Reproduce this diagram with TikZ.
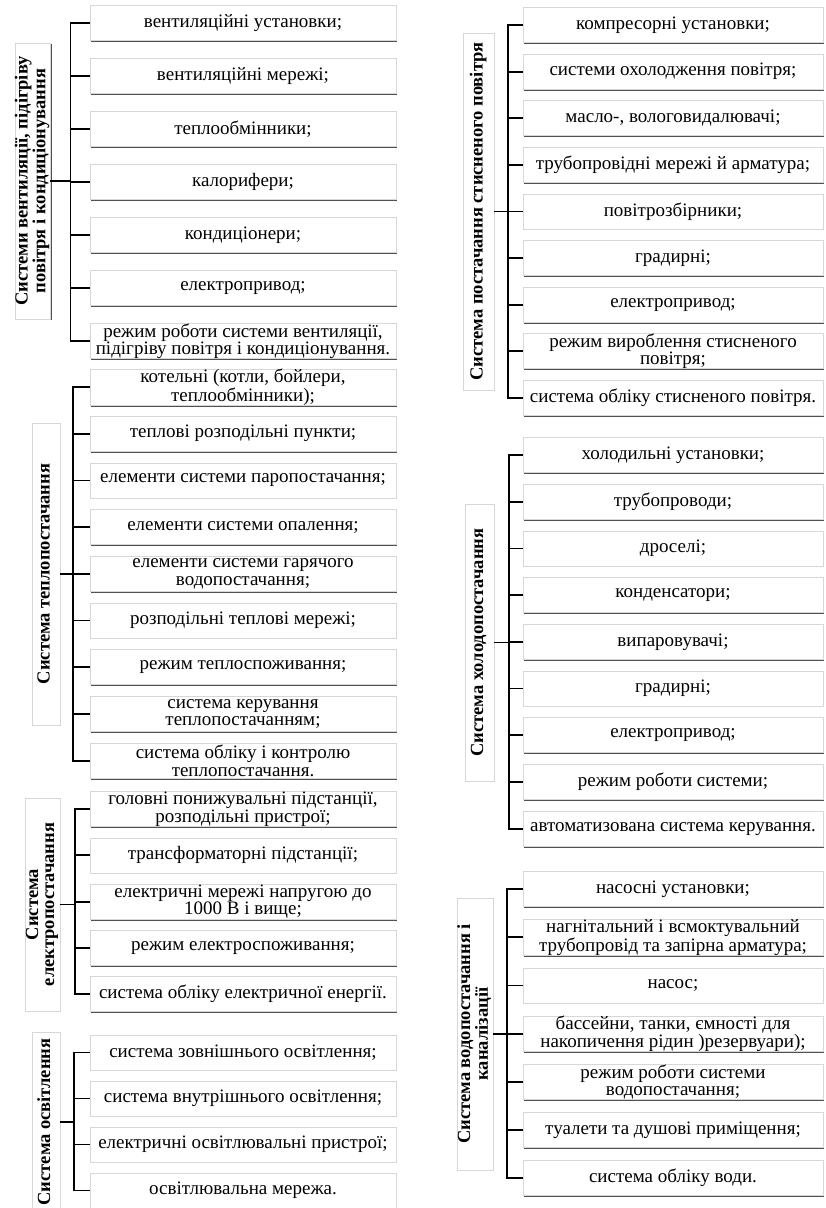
\documentclass[tikz,border=0pt]{standalone}
\usepackage{fontspec}
\setmainfont{Liberation Serif}
\usepackage{graphicx}
\usetikzlibrary{shadows}
\definecolor{EdgeGray}{RGB}{215,215,215}
\definecolor{ShadeGray}{RGB}{80,80,80}
\newcommand{\vtext}[1]{\rotatebox{90}{\begin{tabular}{@{}c@{}}#1\end{tabular}}}
\tikzset{
  item/.style={draw=EdgeGray,fill=white,line width=.6pt,
    minimum width=306pt,minimum height=35pt,inner xsep=2pt,inner ysep=0pt,
    align=center,font=\fontsize{19}{17.5}\selectfont,
    drop shadow={shadow xshift=1.4pt,shadow yshift=-1.4pt,fill=ShadeGray,opacity=1}},
  ritem/.style={item,minimum width=300pt},
  head/.style={draw=EdgeGray,fill=white,line width=.6pt,inner sep=0pt,
    font=\bfseries\fontsize{18.5}{16}\selectfont,
    drop shadow={shadow xshift=1.4pt,shadow yshift=-1.4pt,fill=ShadeGray,opacity=1}},
  link/.style={line width=1.8pt}
}
\begin{document}
\begin{tikzpicture}[x=1pt,y=-1pt]
  \useasboundingbox[fill=white] (0,0) rectangle (825,1208);

  % вентиляція
  \node[head,minimum width=35pt,minimum height=276pt] (h1) at (32.5,181)
    {\vtext{Системи вентиляції, підігріву\\повітря  і кондиціонування}};
  \coordinate (j1) at ([xshift=20pt]h1.east);
  \draw[link] (h1.east) -- (j1);
  \foreach \txt [count=\i] in {вентиляційні установки;,вентиляційні мережі;,
      теплообмінники;,калорифери;,кондиціонери;,електропривод;,
      {режим роботи системи вентиляції,\\підігріву повітря і кондиціонування.}}{
    \node[item] (a\i) at (243,{23+53*(\i-1)}) {\txt};
    \draw[link] (a\i.west) -| (j1);
  }

  % теплопостачання
  \node[head,minimum width=28pt,minimum height=302pt] (h2) at (46,574)
    {\vtext{Система теплопостачання}};
  \coordinate (j2) at ([xshift=13pt]h2.east);
  \draw[link] (h2.east) -- (j2);
  \foreach \txt [count=\i] in {{котельні (котли, бойлери,\\теплообмінники);},
      теплові розподільні пункти;,елементи системи паропостачання;,
      елементи системи опалення;,елементи системи гарячого\\водопостачання;,
      розподільні теплові мережі;,режим теплоспоживання;,
      система керування\\теплопостачанням;,
      система обліку і контролю\\теплопостачання.}{
    \node[item] (b\i) at (243,{387+46.7*(\i-1)}) {\txt};
    \draw[link] (b\i.west) -| (j2);
  }

  % електропостачання
  \node[head,minimum width=35pt,minimum height=213pt] (h3) at (42.5,904.5)
    {\vtext{Система\\електропостачання}};
  \coordinate (j3) at ([xshift=15pt]h3.east);
  \draw[link] (h3.east) -- (j3);
  \foreach \txt [count=\i] in {{головні понижувальні підстанції,\\розподільні пристрої;},
      трансформаторні  підстанції;,електричні мережі напругою до\\1000 В і вище;,
      режим електроспоживання;,система обліку електричної енергії.}{
    \node[item] (c\i) at (243,{809+46.3*(\i-1)}) {\txt};
    \draw[link] (c\i.west) -| (j3);
  }

  % освітлення
  \node[head,minimum width=28pt,minimum height=180pt] (h4) at (46,1122)
    {\vtext{Система освітлення}};
  \coordinate (j4) at ([xshift=14pt]h4.east);
  \draw[link] (h4.east) -- (j4);
  \foreach \txt [count=\i] in {система зовнішнього освітлення;,
      система внутрішнього освітлення;,електричні освітлювальні пристрої;,
      освітлювальна мережа.}{
    \node[item] (d\i) at (243,{1052.5+46*(\i-1)}) {\txt};
    \draw[link] (d\i.west) -| (j4);
  }

  % стиснене повітря
  \node[head,minimum width=31pt,minimum height=357pt] (h5) at (478.5,211.5)
    {\vtext{Система постачання стисненого повітря}};
  \coordinate (j5) at ([xshift=14pt]h5.east);
  \draw[link] (h5.east) -- (j5);
  \foreach \txt [count=\i] in {компресорні  установки;,системи охолодження повітря;,
      {масло-, вологовидалювачі;},трубопровідні мережі й арматура;,
      повітрозбірники;,градирні;,електропривод;,
      режим вироблення стисненого\\повітря;,система обліку стисненого повітря.}{
    \node[ritem] (e\i) at (673,{25+46.6*(\i-1)}) {\txt};
    \draw[link] (e\i.west) -| (j5);
  }

  % холодопостачання
  \node[head,minimum width=29pt,minimum height=277pt] (h6) at (479.5,642.5)
    {\vtext{Система холодопостачання}};
  \coordinate (j6) at ([xshift=15pt]h6.east);
  \draw[link] (h6.east) -- (j6);
  \foreach \txt [count=\i] in {холодильні установки;,трубопроводи;,дроселі;,
      конденсатори;,випаровувачі;,градирні;,електропривод;,
      режим роботи системи;,автоматизована система керування.}{
    \node[ritem] (f\i) at (673,{455+46.7*(\i-1)}) {\txt};
    \draw[link] (f\i.west) -| (j6);
  }

  % водопостачання
  \node[head,minimum width=36pt,minimum height=272pt] (h7) at (475,1034)
    {\vtext{Система водопостачання і\\каналізації}};
  \coordinate (j7) at ([xshift=14pt]h7.east);
  \draw[link] (h7.east) -- (j7);
  \foreach \txt [count=\i] in {насосні установки;,
      нагнітальний і всмоктувальний\\трубопровід та запірна арматура;,насос;,
      {бассейни, танки, ємності для\\накопичення рідин )резервуари);},
      режим роботи системи\\водопостачання;,туалети та душові приміщення;,
      система обліку води.}{
    \node[ritem] (g\i) at (673,{889+48.2*(\i-1)}) {\txt};
    \draw[link] (g\i.west) -| (j7);
  }
\end{tikzpicture}
\end{document}
